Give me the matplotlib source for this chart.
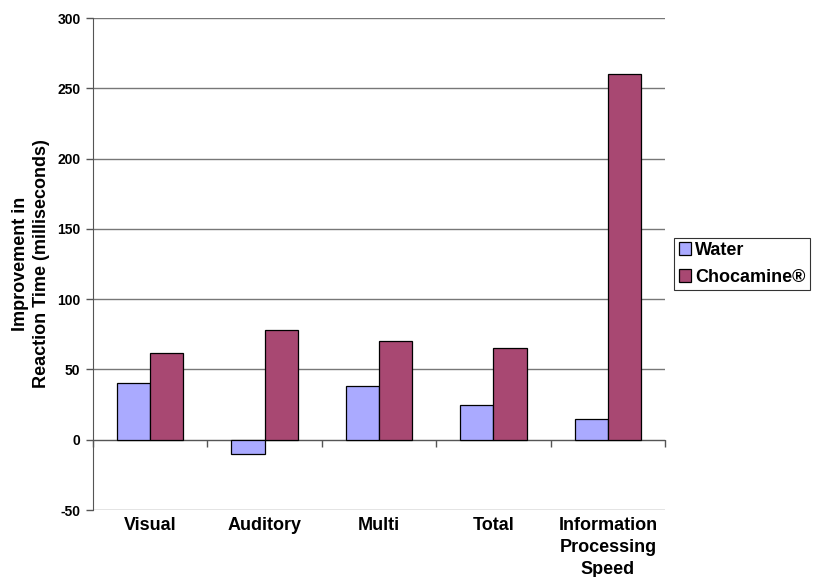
import matplotlib
matplotlib.use("Agg")
import matplotlib.pyplot as plt
import numpy as np

categories = ["Visual", "Auditory", "Multi", "Total", "Information\nProcessing\nSpeed"]
water = [40, -10, 38, 25, 15]
chocamine = [62, 78, 70, 65, 260]
yticks = [-50, 0, 50, 100, 150, 200, 250, 300]

plt.rcParams["font.family"] = ["Liberation Sans", "DejaVu Sans"]
plt.rcParams["font.weight"] = "bold"
plt.rcParams["axes.unicode_minus"] = False

fig = plt.figure(figsize=(8.13, 5.77), dpi=100)
ax = fig.add_axes([0.1144, 0.1161, 0.7036, 0.8527])

x = np.arange(len(categories))
w = 0.29
ax.bar(x - w / 2, water, w, color="#AAAAFF", edgecolor="black", linewidth=0.9, label="Water", zorder=3)
ax.bar(x + w / 2, chocamine, w, color="#A84872", edgecolor="black", linewidth=0.9, label="Chocamine®", zorder=3)

ax.set_xlim(-0.5, len(categories) - 0.5)
ax.set_ylim(-50, 300)
ax.set_yticks(yticks)
ax.tick_params(axis="y", labelsize=10, length=5, width=1, color="#555555", pad=4)
ax.yaxis.grid(True, color="#777777", linewidth=1.0, zorder=0)

# zero line as category axis, with ticks between groups
ax.spines["top"].set_visible(False)
ax.spines["right"].set_visible(False)
ax.spines["bottom"].set_position(("data", 0))
ax.spines["bottom"].set_color("#555555")
ax.spines["left"].set_color("#555555")
ax.set_xticks(np.arange(len(categories) + 1) - 0.5)
ax.set_xticklabels([])
ax.tick_params(axis="x", length=5, width=1, color="#555555", direction="out")

for i, lab in enumerate(categories):
    ax.annotate(lab, (i, -50), xytext=(0, -5), textcoords="offset points",
                ha="center", va="top", fontsize=13, fontweight="bold",
                linespacing=1.38, annotation_clip=False)

ax.set_ylabel("Improvement in\nReaction Time (milliseconds)", fontsize=13,
              fontweight="bold", labelpad=5, linespacing=1.35)

leg = ax.legend(loc="center left", bbox_to_anchor=(1.016, 0.5), frameon=True,
                fancybox=False, edgecolor="black", fontsize=13,
                handlelength=0.7, handleheight=0.7, handletextpad=0.2,
                borderpad=0.25, labelspacing=0.55, borderaxespad=0)
leg.get_frame().set_linewidth(0.8)

fig.savefig("out.png", dpi=100)
